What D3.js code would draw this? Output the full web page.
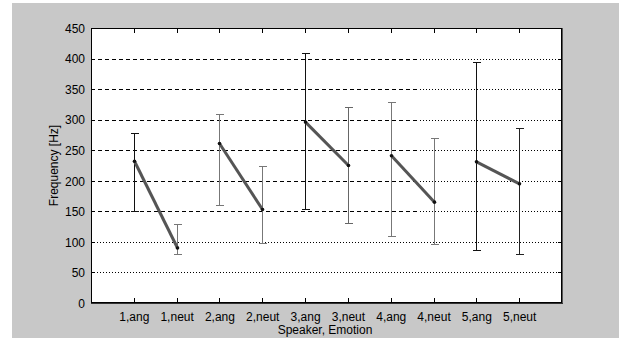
<!DOCTYPE html>
<html><head><meta charset="utf-8">
<script src="https://cdn.jsdelivr.net/npm/d3@7"></script>
<style>
html,body{margin:0;padding:0;background:#fff;}
text{font-family:"Liberation Sans",Arial,sans-serif;font-size:12px;fill:#000;}
</style></head>
<body>
<svg id="c" width="619" height="338"></svg>
<script>
// ---- data ----
const categories = ["1,ang","1,neut","2,ang","2,neut","3,ang","3,neut","4,ang","4,neut","5,ang","5,neut"];
const means  = [232, 90, 261, 153, 296, 225, 241, 165, 231, 195];
const upper  = [279, 130, 310, 224, 409, 320, 329, 270, 395, 286];
const lower  = [150, 80, 160, 98, 154, 131, 110, 96, 87, 80];
const yTicks = [0, 50, 100, 150, 200, 250, 300, 350, 400, 450];
const xLabel = "Speaker, Emotion";
const yLabel = "Frequency [Hz]";

// ---- styling / layout ----
const barShade = ["#111","#777","#777","#777","#111","#666","#777","#777","#111","#222"];
const svg = d3.select("#c");
const W = 619, H = 338;
const L = 91, R = 562, T = 28, B = 303;
const FONT = "'Liberation Sans',Arial,sans-serif";

svg.append("rect").attr("x",12).attr("y",3).attr("width",W-12).attr("height",H-3).attr("fill","#c8c8c8");
svg.append("rect").attr("x",L).attr("y",T).attr("width",R-L).attr("height",B-T).attr("fill","#fff");

const x = d3.scaleLinear().domain([0, categories.length+1]).range([L, R]);
const y = d3.scaleLinear().domain([0, 450]).range([B, T]);

// grid
const switchX = 420;
yTicks.filter(v => v>0 && v<450).forEach(v => {
  const yy = Math.round(y(v)) + 0.5;
  if (v >= 150) {
    svg.append("line").attr("x1",L).attr("x2",switchX).attr("y1",yy).attr("y2",yy)
      .attr("stroke","#000").attr("stroke-dasharray","4,3").attr("shape-rendering","crispEdges");
    svg.append("line").attr("x1",switchX).attr("x2",R).attr("y1",yy).attr("y2",yy)
      .attr("stroke","#000").attr("stroke-dasharray","1,2").attr("shape-rendering","crispEdges");
  } else {
    svg.append("line").attr("x1",L).attr("x2",R).attr("y1",yy).attr("y2",yy)
      .attr("stroke","#000").attr("stroke-dasharray","1,2").attr("shape-rendering","crispEdges");
  }
});

// axes
const xb = d3.axisBottom(x).tickValues(d3.range(1, categories.length+1))
  .tickFormat(i => categories[i-1]).tickSizeInner(-5).tickSizeOuter(0).tickPadding(6);
const gx = svg.append("g").attr("transform",`translate(0,${B})`).call(xb);
const xt = d3.axisTop(x).tickValues(d3.range(1, categories.length+1))
  .tickFormat("").tickSizeInner(-5).tickSizeOuter(0);
const gxt = svg.append("g").attr("transform",`translate(0,${T})`).call(xt);
const yl = d3.axisLeft(y).tickValues(yTicks).tickSizeInner(-4).tickSizeOuter(0).tickPadding(6);
const gy = svg.append("g").attr("transform",`translate(${L},0)`).call(yl);
const yr = d3.axisRight(y).tickValues(yTicks).tickFormat("").tickSizeInner(-4).tickSizeOuter(0);
const gyr = svg.append("g").attr("transform",`translate(${R},0)`).call(yr);
[gx,gxt,gy,gyr].forEach(g => {
  g.select(".domain").remove();
  g.selectAll("line").attr("stroke","#000").attr("shape-rendering","crispEdges");
  g.selectAll("text").style("font-family",FONT).style("font-size","12px").attr("fill","#000");
});
gx.selectAll("text").attr("y",9).attr("dy","0.71em");
gy.selectAll("text").attr("dy","0.36em");

// frame
svg.append("rect").attr("x",L+0.5).attr("y",T+0.5).attr("width",R-L-1).attr("height",B-T-1)
  .attr("fill","none").attr("stroke","#000").attr("shape-rendering","crispEdges");
svg.append("line").attr("x1",R+0.5).attr("x2",R+0.5).attr("y1",T).attr("y2",B+1).attr("stroke","#555");
svg.append("line").attr("x1",L).attr("x2",R+1).attr("y1",B+0.5).attr("y2",B+0.5).attr("stroke","#333");

// error bars
categories.forEach((c,i) => {
  const cx = Math.round(x(i+1)) + 0.5;
  const g = svg.append("g").attr("stroke",barShade[i]).attr("shape-rendering","crispEdges");
  g.append("line").attr("x1",cx).attr("x2",cx).attr("y1",y(lower[i])).attr("y2",y(upper[i]));
  g.append("line").attr("x1",cx-4).attr("x2",cx+4).attr("y1",Math.round(y(upper[i]))+0.5).attr("y2",Math.round(y(upper[i]))+0.5);
  g.append("line").attr("x1",cx-4).attr("x2",cx+4).attr("y1",Math.round(y(lower[i]))+0.5).attr("y2",Math.round(y(lower[i]))+0.5);
});

// mean lines per speaker
for (let s = 0; s < categories.length; s += 2) {
  svg.append("line")
    .attr("x1",Math.round(x(s+1))+0.5).attr("y1",y(means[s]))
    .attr("x2",Math.round(x(s+2))+0.5).attr("y2",y(means[s+1]))
    .attr("stroke","#555").attr("stroke-width",3);
}
categories.forEach((c,i) => {
  svg.append("circle").attr("cx",Math.round(x(i+1))+0.5).attr("cy",y(means[i])).attr("r",1.8).attr("fill","#111");
});

// labels
svg.append("text").attr("x",325).attr("y",334).attr("text-anchor","middle").text(xLabel);
svg.append("text").attr("transform",`translate(58,${(T+B)/2}) rotate(-90)`).attr("text-anchor","middle").text(yLabel);
</script>
</body></html>
